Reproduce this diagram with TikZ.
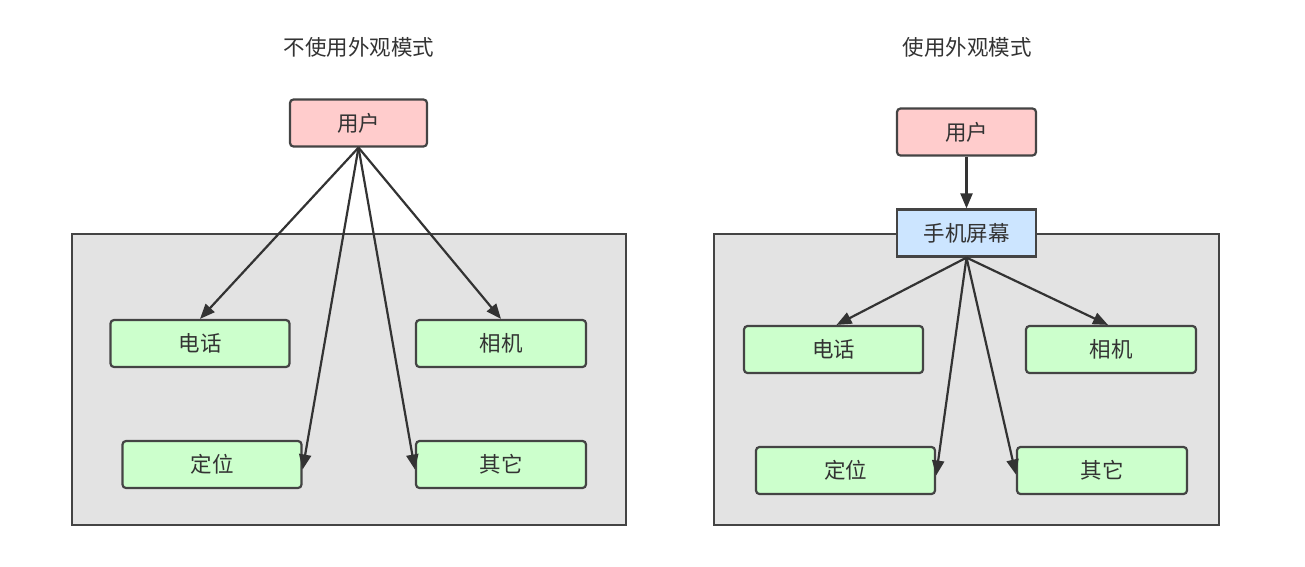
\documentclass[tikz,border=0pt]{standalone}
\usepackage{fontspec}
\setmainfont{Noto Sans CJK SC}
\usetikzlibrary{arrows.meta}
\definecolor{ink}{HTML}{333333}
\definecolor{edge}{HTML}{444444}
\definecolor{redfill}{HTML}{FFCCCC}
\definecolor{greenfill}{HTML}{CCFFCC}
\definecolor{bluefill}{HTML}{CCE5FF}
\definecolor{panel}{HTML}{E3E3E3}
\tikzset{
  box/.style={draw=edge, line width=2.2pt, rounded corners=3.5pt, minimum height=47pt, inner sep=0pt, font=\fontsize{21.5}{25}\selectfont, text=ink},
  userbox/.style={box, fill=redfill, minimum width=137pt},
  screenbox/.style={box, fill=bluefill, minimum width=139pt, rounded corners=0pt},
  funcbox/.style={box, fill=greenfill, minimum width=179pt},
  funcboxs/.style={box, fill=greenfill, minimum width=170pt},
  container/.style={draw=edge, line width=2.2pt, fill=panel},
  arr/.style={draw=ink, line width=2.2pt, -{Triangle[length=15pt,width=12pt]}},
  title/.style={font=\fontsize{21.5}{25}\selectfont, text=ink}
}
\begin{document}
\begin{tikzpicture}[x=1pt,y=-1pt]
\useasboundingbox (0,0) rectangle (1305,566);
% left
\node[title] (t1) at (359,47) {不使用外观模式};
\node[container, minimum width=554pt, minimum height=291pt, inner sep=0pt] (c1) at (349,379.5) {};
\node[userbox] (u1) at (358.5,123) {用户};
\node[funcbox] (dh1) at (200,343.5) {电话};
\node[funcboxs] (xj1) at (501,343.5) {相机};
\node[funcbox] (dw1) at (212,464.5) {定位};
\node[funcboxs] (qt1) at (501,464.5) {其它};
\coordinate (s1) at (u1.south);
\draw[arr] (s1) -- (dh1.north);
\draw[arr] (s1) -- ([yshift=-5pt]dw1.east);
\draw[arr] (s1) -- ([yshift=-5pt]qt1.west);
\draw[arr] (s1) -- (xj1.north);
% right
\node[title] (t2) at (967,47) {使用外观模式};
\node[container, minimum width=505pt, minimum height=291pt, inner sep=0pt] (c2) at (966.5,379.5) {};
\node[userbox, minimum width=139pt] (u2) at (966.5,132) {用户};
\node[screenbox] (pm) at (966.5,233) {手机屏幕};
\draw[arr] (u2) -- (pm);
\node[funcbox] (dh2) at (833.5,349.5) {电话};
\node[funcboxs] (xj2) at (1111,349.5) {相机};
\node[funcbox] (dw2) at (845.5,470.5) {定位};
\node[funcboxs] (qt2) at (1102,470.5) {其它};
\coordinate (s2) at (pm.south);
\draw[arr] (s2) -- ([xshift=3pt]dh2.north);
\draw[arr] (s2) -- ([yshift=-5pt]dw2.east);
\draw[arr] (s2) -- ([yshift=-4pt]qt2.west);
\draw[arr] (s2) -- ([xshift=-3pt]xj2.north);
\end{tikzpicture}
\end{document}
